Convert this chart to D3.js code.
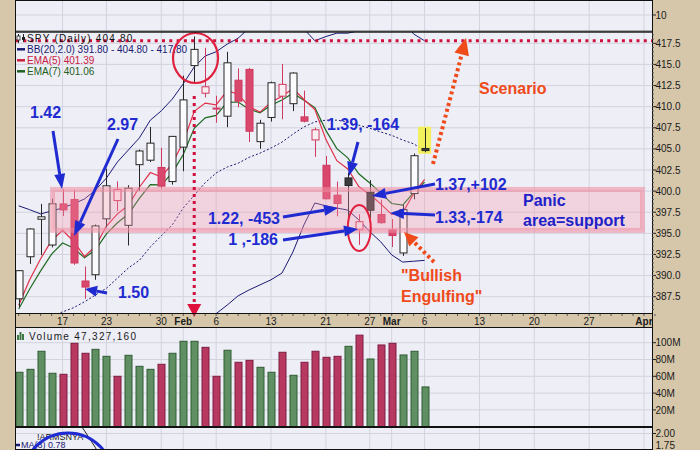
<!DOCTYPE html>
<html><head><meta charset="utf-8">
<script src="https://cdn.jsdelivr.net/npm/d3@7"></script>
<style>html,body{margin:0;padding:0;background:#d6c7ab;}svg{display:block;}</style>
</head><body>
<svg id="c" width="700" height="450"></svg>
<script>
// ---------------- DATA ----------------
const sessions = ["2023-01-10","2023-01-11","2023-01-12","2023-01-13","2023-01-17","2023-01-18","2023-01-19","2023-01-20",
"2023-01-23","2023-01-24","2023-01-25","2023-01-26","2023-01-27","2023-01-30","2023-01-31","2023-02-01","2023-02-02","2023-02-03",
"2023-02-06","2023-02-07","2023-02-08","2023-02-09","2023-02-10","2023-02-13","2023-02-14","2023-02-15","2023-02-16","2023-02-17",
"2023-02-21","2023-02-22","2023-02-23","2023-02-24","2023-02-27","2023-02-28","2023-03-01","2023-03-02","2023-03-03","2023-03-06",
"2023-03-07","2023-03-08","2023-03-09","2023-03-10","2023-03-13","2023-03-14","2023-03-15","2023-03-16","2023-03-17",
"2023-03-20","2023-03-21","2023-03-22","2023-03-23","2023-03-24","2023-03-27","2023-03-28","2023-03-29","2023-03-30","2023-03-31",
"2023-04-03","2023-04-04"];
const open  = [387.25,392.23,396.67,393.62,398.48,399.01,389.36,390.10,396.72,398.88,395.95,403.13,403.66,402.80,401.13,405.21,414.86,411.59,409.79,408.87,413.13,414.41,405.86,408.72,411.24,410.35,408.79,406.06,403.06,399.52,401.56,395.42,399.87,397.23,395.41,392.68,399.71,405.05];
const high  = [390.65,395.60,398.49,399.10,400.23,400.12,391.08,396.04,402.65,401.15,400.70,404.92,407.60,405.13,406.53,413.67,418.31,416.97,411.29,416.49,414.53,414.57,408.44,412.97,415.05,414.06,411.90,407.51,404.16,401.13,402.20,397.25,401.29,399.00,396.69,398.40,404.45,407.45];
const low   = [386.27,391.38,392.42,393.34,397.06,391.28,387.26,389.50,395.72,397.64,393.56,400.03,403.44,400.28,400.77,402.35,412.88,411.09,408.10,407.57,409.93,405.81,405.01,408.24,408.51,409.47,408.14,404.05,399.03,397.02,396.25,393.64,396.75,396.15,393.38,392.33,399.03,404.60];
const close = [390.58,395.52,396.96,398.50,397.77,391.49,388.64,395.88,400.63,400.20,400.35,404.75,405.68,400.59,406.48,410.80,416.78,412.35,409.83,415.19,410.65,407.09,408.04,412.83,412.64,413.98,408.28,407.26,399.09,398.54,400.66,396.38,397.73,396.26,394.74,397.81,404.19,404.80];
const volumeM = [64.8,68.3,89.8,63.6,62.4,99.3,87.4,92.1,83.8,60.0,85.0,71.9,68.3,74.3,87.4,101.7,101.7,94.5,60.0,91.0,76.7,79.0,70.7,64.8,88.6,61.2,76.7,89.8,82.6,83.8,95.7,109.0,80.6,97.3,99.3,85.4,89.8,47.33];
const ema5 = [386.5,389.51,391.99,394.16,395.36,394.07,392.26,393.47,395.86,397.31,398.32,400.46,402.2,401.66,403.27,405.78,409.45,410.42,410.22,411.88,411.47,410.01,409.35,410.51,411.22,412.14,410.85,409.65,406.13,403.6,402.62,400.54,399.6,398.49,397.24,397.43,399.68,401.39];
const ema7 = [386.05,388.41,390.55,392.54,393.85,393.26,392.10,393.05,394.94,396.26,397.28,399.15,400.78,400.73,402.17,404.33,407.44,408.67,408.96,410.52,410.55,409.69,409.28,410.17,410.79,411.59,410.76,409.89,407.19,405.03,403.94,402.05,400.97,399.79,398.53,398.35,399.81,401.06];
const bbUpper = [398.26,397.8,397.3,397.65,398.0,398.5,399.07,400.13,401.55,403.45,404.87,406.3,408.4,409.5,410.9,412.7,414.7,416.0,416.5,417.4,418.1,419.3,420.0,420.6,421.0,420.6,419.2,417.8,418.3,418.7,418.7,419.0,419.6,420.0,420.5,420.3,418.6,417.8];
const bbMiddle = [384.0,384.4,384.8,385.2,385.7,386.2,386.9,387.7,388.5,389.7,390.9,391.8,393.4,394.7,396.0,398.0,399.5,401.0,402.15,402.85,403.3,404.0,404.5,405.1,405.8,406.75,407.6,408.2,408.4,408.4,408.2,407.8,407.45,407.0,406.6,406.05,405.6,404.8];
const bbLower = [null,null,null,null,null,null,null,null,null,null,null,null,null,null,null,383.2,384.0,384.8,385.5,386.5,387.6,388.3,388.9,389.5,390.3,392.8,396.0,398.6,398.25,398.0,397.75,396.6,395.2,394.0,392.45,391.6,391.7,391.8];
const armsMA = [null,null,null,null,null,2.28,2.04,1.79,1.45];
const priceTicks = [387.5,390,392.5,395,397.5,400,402.5,405,407.5,410,412.5,415,417.5];
const volumeTicks = [20,40,60,80,100];
const armsTicks = [2.0,1.75];
const topTicks = ["10"];
const dateTicks = ["2023-01-17","2023-01-23","2023-01-30","2023-02-01","2023-02-06","2023-02-13","2023-02-21","2023-02-27","2023-03-01","2023-03-06","2023-03-13","2023-03-20","2023-03-27","2023-04-03"];
const dateTickLabels = ["17","23","30","Feb","6","13","21","27","Mar","6","13","20","27","Apr"];
const monthLabels = ["Feb","Mar","Apr"];
const legendTitle = "SPY (Daily) 404.80";
const legendBB = "BB(20,2.0) 391.80 - 404.80 - 417.80";
const legendE5 = "EMA(5) 401.39";
const legendE7 = "EMA(7) 401.06";
const volumeTitle = "Volume 47,327,160";
const panicLow = 395.35, panicHigh = 400.2;

// ---------------- LAYOUT ----------------
const L = 15, R = 652;
const TOP = [0, 31.7], MAIN = [31.7, 314], VOL = [327, 427], ARMS = [427, 450];
const FONT = "'Liberation Sans', Arial, sans-serif";
const svg = d3.select("#c");
svg.append("rect").attr("width",700).attr("height",450).attr("fill","#d6c7ab");

const x = d3.scalePoint().domain(sessions).range([18.7, 18.7 + 58*10.97]);
const y = d3.scaleLinear().domain([387.5,417.5]).range([296.7,43.3]);
const yv = d3.scaleLinear().domain([0,100]).range([426.7,342.7]);
const ya = d3.scaleLinear().domain([1.75,2.0]).range([450.5,433.5]);

const defs = svg.append("defs");
function panel(r, id){
  svg.append("rect").attr("x",L).attr("y",r[0]).attr("width",R-L).attr("height",r[1]-r[0]).attr("fill","#eeeef6");
  defs.append("clipPath").attr("id",id).append("rect").attr("x",L).attr("y",r[0]).attr("width",R-L).attr("height",r[1]-r[0]);
  const g = svg.append("g").attr("clip-path",`url(#${id})`);
  g.selectAll("line.vg").data(dateTicks).join("line").attr("class","vg")
    .attr("x1",d=>x(d)).attr("x2",d=>x(d)).attr("y1",r[0]).attr("y2",r[1])
    .attr("stroke","#d3d3df").attr("stroke-width",1);
  return g;
}
const gTop = panel(TOP,"cTop");
const gMain = panel(MAIN,"cMain");
const gVol = panel(VOL,"cVol");
const gArms = panel(ARMS,"cArms");

// horizontal grids
gTop.append("line").attr("x1",L).attr("x2",R).attr("y1",15).attr("y2",15).attr("stroke","#d3d3df");
gMain.selectAll("line.hg").data(priceTicks).join("line").attr("class","hg")
  .attr("x1",L).attr("x2",R).attr("y1",d=>y(d)).attr("y2",d=>y(d)).attr("stroke","#d3d3df");
gVol.selectAll("line.hg").data(volumeTicks).join("line").attr("class","hg")
  .attr("x1",L).attr("x2",R).attr("y1",d=>yv(d)).attr("y2",d=>yv(d)).attr("stroke","#d3d3df");
gArms.selectAll("line.hg").data(armsTicks).join("line").attr("class","hg")
  .attr("x1",L).attr("x2",R).attr("y1",d=>ya(d)).attr("y2",d=>ya(d)).attr("stroke","#d3d3df");

// ---------------- MAIN: indicators ----------------
const idx = d3.range(close.length);
const line = arr => d3.line().defined(i=>arr[i]!=null).x(i=>x(sessions[i])).y(i=>y(arr[i]))(idx);
gMain.append("path").attr("d",line(bbUpper)).attr("fill","none").attr("stroke","#1b1b72").attr("stroke-width",1);
gMain.append("path").attr("d",line(bbLower)).attr("fill","none").attr("stroke","#1b1b72").attr("stroke-width",1);
gMain.append("path").attr("d",line(bbMiddle)).attr("fill","none").attr("stroke","#1b1b72").attr("stroke-width",1).attr("stroke-dasharray","2,2");

// yellow highlight of last candle
const last = close.length-1;
gMain.append("rect").attr("x",x(sessions[last])-6.5).attr("y",y(high[last])-1.5)
  .attr("width",13).attr("height",y(low[last])-y(high[last])+3).attr("fill","#f3ef4c").attr("opacity",0.9);

gMain.append("path").attr("d",line(ema7)).attr("fill","none").attr("stroke","#1f6a22").attr("stroke-width",1.2);
gMain.append("path").attr("d",line(ema5)).attr("fill","none").attr("stroke","#e0304a").attr("stroke-width",1.2);

// candles
const candles = idx.map(i=>{
  const pc = i ? close[i-1] : open[i];
  const up = close[i] >= pc, hollow = close[i] > open[i];
  return {d:sessions[i], o:open[i], h:high[i], l:low[i], c:close[i], up, hollow};
});
const cg = gMain.append("g");
candles.forEach(k=>{
  const stroke = k.up ? "#262626" : "#d0395f";
  const fill = k.hollow ? (k.up ? "#fbfbfd" : "#f9eef2") : (k.up ? "#3b3b3b" : "#d9476c");
  const cx = Math.round(x(k.d)) + 0.5;
  cg.append("line").attr("x1",cx).attr("x2",cx).attr("y1",y(k.h)).attr("y2",y(k.l)).attr("stroke",stroke).attr("stroke-width",1);
  const top = y(Math.max(k.o,k.c)), bot = y(Math.min(k.o,k.c));
  cg.append("rect").attr("x",cx-3.5).attr("y",top).attr("width",7).attr("height",Math.max(1,bot-top))
    .attr("fill",fill).attr("stroke",stroke).attr("stroke-width",1);
});

// panic band (translucent annotation)
gMain.append("rect").attr("x",52.5).attr("y",y(panicHigh)).attr("width",590).attr("height",y(panicLow)-y(panicHigh))
  .attr("fill","rgba(245,150,170,0.30)").attr("stroke","rgba(238,140,160,0.55)").attr("stroke-width",5);

// red dotted horizontal at last upper band
gMain.append("line").attr("x1",L+1).attr("x2",R).attr("y1",y(bbUpper[last])).attr("y2",y(bbUpper[last]))
  .attr("stroke","#d0103c").attr("stroke-width",3).attr("stroke-dasharray","3,4.3");

// ---------------- ANNOTATIONS ----------------
const ann = svg.append("g");
const BLUE = "#1f2bd0", ORANGE = "#ef4a1a", RED = "#e0203e";
function arrow(x1,y1,x2,y2,color,w,hl,hw,dash){
  const a = Math.atan2(y2-y1,x2-x1);
  const bx = x2-hl*Math.cos(a), by = y2-hl*Math.sin(a);
  ann.append("line").attr("x1",x1).attr("y1",y1).attr("x2",bx).attr("y2",by)
    .attr("stroke",color).attr("stroke-width",w).attr("stroke-dasharray",dash||null);
  const px = -Math.sin(a)*hw/2, py = Math.cos(a)*hw/2;
  ann.append("path").attr("d",`M${x2},${y2}L${bx+px},${by+py}L${bx-px},${by-py}Z`).attr("fill",color);
}
function label(t,tx,ty,color,anchor){
  ann.append("text").attr("x",tx).attr("y",ty).attr("fill",color).attr("font-family",FONT)
    .attr("font-weight","bold").attr("font-size",16).attr("text-anchor",anchor||"start").text(t);
}
// Feb 2 ellipse + dotted drop line
const xf = x("2023-02-02");
ann.append("ellipse").attr("cx",xf+1.3).attr("cy",58).attr("rx",22.5).attr("ry",25).attr("fill","none").attr("stroke",RED).attr("stroke-width",2.2);
ann.append("line").attr("x1",xf).attr("x2",xf).attr("y1",96).attr("y2",305).attr("stroke","#d0103c").attr("stroke-width",3).attr("stroke-dasharray","3,4");
ann.append("path").attr("d",`M${xf-7},304L${xf+7},304L${xf},317Z`).attr("fill","#e0103c");
// Feb 24 ellipse
const xe = x("2023-02-24");
ann.append("ellipse").attr("cx",xe+0.5).attr("cy",228).attr("rx",11.5).attr("ry",23).attr("fill","none").attr("stroke",RED).attr("stroke-width",2);

label("1.42",30,118.4,BLUE); arrow(53,131,62,189,BLUE,3,15,11);
label("2.97",107,129.7,BLUE); arrow(118,139,74,236,BLUE,3,15,11);
label("1.50",118,297.7,BLUE); arrow(107,293,85,289,BLUE,3,12,11);
label("1.39, -164",327,130.2,BLUE); arrow(358,142,349,176,BLUE,3,14,11);
label("1.37,+102",435,189.7,BLUE); arrow(435,184,372,196,BLUE,3,14,11);
label("1.33,-174",435,223.2,BLUE); arrow(435,215,390,213,BLUE,3,14,11);
label("1.22, -453",280,224.2,BLUE,"end"); arrow(283,217,338,208,BLUE,3,14,11);
label("1 ,-186",278,244.7,BLUE,"end"); arrow(283,240,358,229,BLUE,3,14,11);
label("Panic",523,205.7,"#2020c8"); label("area=support",523,226.4,"#2020c8");
label("Scenario",479,93.7,ORANGE);
label("\"Bullish",401,280.7,ORANGE); label("Engulfing\"",401,301.7,ORANGE);
arrow(433,164,466,38,ORANGE,4,17,15,"3,3");
arrow(434,262,404,232,ORANGE,4,14,13,"3,3");

// ---------------- LEGEND ----------------
const lg = svg.append("g").attr("font-family",FONT).attr("font-size",10);
lg.append("line").attr("x1",18.5).attr("x2",18.5).attr("y1",34).attr("y2",43).attr("stroke","#222");
lg.append("rect").attr("x",17).attr("y",36).attr("width",3).attr("height",4).attr("fill","#fff").attr("stroke","#222").attr("stroke-width",0.8);
lg.append("line").attr("x1",23.5).attr("x2",23.5).attr("y1",34).attr("y2",42).attr("stroke","#222");
lg.append("rect").attr("x",22).attr("y",37).attr("width",3).attr("height",3).attr("fill","#222");
lg.append("text").attr("x",27).attr("y",42).attr("fill","#111").attr("letter-spacing",1.2).text(legendTitle);
[[legendBB,"#1b1b72",49.3],[legendE5,"#c8203f",60.3],[legendE7,"#1f5f22",71.3]].forEach(([t,c,cy])=>{
  lg.append("line").attr("x1",17).attr("x2",25).attr("y1",cy).attr("y2",cy).attr("stroke",c).attr("stroke-width",2.5);
  lg.append("text").attr("x",27).attr("y",cy+3.6).attr("fill",c).text(t);
});

// ---------------- VOLUME ----------------
gVol.selectAll("rect.vb").data(idx).join("rect").attr("class","vb")
  .attr("x",i=>Math.round(x(sessions[i]))-3).attr("y",i=>yv(volumeM[i])).attr("width",7)
  .attr("height",i=>yv(0)-yv(volumeM[i])+2)
  .attr("fill",i=>(i===0||close[i]>=close[i-1])?"#5f8f62":"#b73860")
  .attr("stroke",i=>(i===0||close[i]>=close[i-1])?"#2f5c33":"#7c1c40").attr("stroke-width",1);
const vi = svg.append("g");
[[17,335],[19.5,332],[22,334]].forEach(([bx,by])=>vi.append("rect").attr("x",bx).attr("y",by).attr("width",2).attr("height",340-by).attr("fill","#3f7a44"));
svg.append("text").attr("x",29).attr("y",340).attr("font-family",FONT).attr("font-size",10).attr("fill","#1a1a1a").attr("letter-spacing",1.3).text(volumeTitle);

// ---------------- ARMS panel ----------------
gArms.append("path").attr("d",d3.line().defined(i=>armsMA[i]!=null).x(i=>x(sessions[i])).y(i=>ya(armsMA[i]))(d3.range(armsMA.length)))
  .attr("fill","none").attr("stroke","#222").attr("stroke-width",1);
gArms.append("text").attr("x",37).attr("y",439.5).attr("font-family",FONT).attr("font-size",9).attr("fill","#222").text("!ARMSNYA");
gArms.append("line").attr("x1",14).attr("x2",20).attr("y1",445).attr("y2",445).attr("stroke","#1b1b72").attr("stroke-width",2.5);
gArms.append("text").attr("x",21).attr("y",448.3).attr("font-family",FONT).attr("font-size",9).attr("fill","#1b1b72").text("MA(3) 0.78");
gArms.append("circle").attr("cx",68).attr("cy",478).attr("r",45).attr("fill","none").attr("stroke","#1f2bd0").attr("stroke-width",3);

// ---------------- BORDERS ----------------
const bd = svg.append("g").attr("stroke","#111").attr("fill","none");
[TOP,MAIN,VOL,ARMS].forEach(r=>{
  bd.append("line").attr("x1",L).attr("x2",R).attr("y1",r[0]+0.5).attr("y2",r[0]+0.5);
  bd.append("line").attr("x1",L).attr("x2",R).attr("y1",r[1]-0.5).attr("y2",r[1]-0.5);
});
bd.append("line").attr("x1",L+0.5).attr("x2",L+0.5).attr("y1",0).attr("y2",450);
bd.append("line").attr("x1",R+0.5).attr("x2",R+0.5).attr("y1",0).attr("y2",450);

// ---------------- AXES ----------------
const ax = svg.append("g").attr("font-family",FONT).attr("font-size",10).attr("fill","#1a1a1a");
function rightTicks(vals, sc, fmt){
  vals.forEach(v=>{
    ax.append("line").attr("x1",R).attr("x2",R+4).attr("y1",sc(v)).attr("y2",sc(v)).attr("stroke","#222");
    ax.append("text").attr("x",R+3.5).attr("y",Math.min(sc(v)+3.6,448.8)).text(fmt(v));
  });
}
rightTicks(priceTicks, y, d3.format(".1f"));
rightTicks(volumeTicks, yv, d=>d+"M");
rightTicks(armsTicks, ya, d3.format(".2f"));
ax.append("line").attr("x1",R).attr("x2",R+4).attr("y1",15).attr("y2",15).attr("stroke","#222");
ax.append("text").attr("x",R+3.5).attr("y",18.6).text(topTicks[0]);
d3.range(386,419.01,0.5).forEach(v=>{
  if (y(v)>MAIN[0] && y(v)<MAIN[1]) ax.append("line").attr("x1",R).attr("x2",R+2).attr("y1",y(v)).attr("y2",y(v)).attr("stroke","#555");
});
sessions.forEach(s=>{
  ax.append("line").attr("x1",x(s)).attr("x2",x(s)).attr("y1",MAIN[1]).attr("y2",MAIN[1]+2).attr("stroke","#555");
});
dateTicks.forEach((d,i)=>{
  const t = dateTickLabels[i];
  ax.append("text").attr("x",x(d)).attr("y",325).attr("text-anchor","middle")
    .attr("font-weight",monthLabels.includes(t)?"bold":"normal").text(t);
});
</script>
</body></html>
